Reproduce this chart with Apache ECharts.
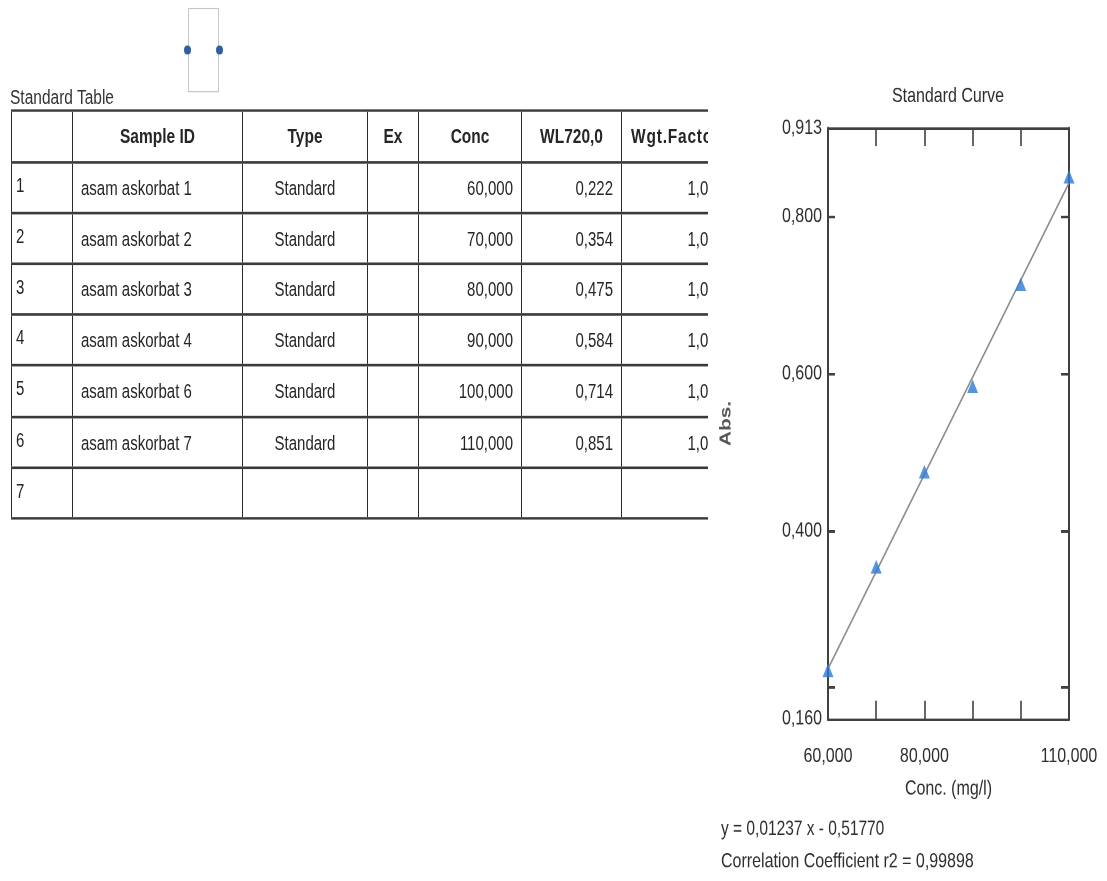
<!DOCTYPE html>
<html>
<head>
<meta charset="utf-8">
<script src="https://cdn.jsdelivr.net/npm/echarts@6/dist/echarts.min.js"></script>
<style>
  html, body { margin: 0; padding: 0; background: #fff; }
  body { width: 1107px; height: 881px; position: relative; overflow: hidden;
         font-family: 'Liberation Sans', Arial, sans-serif; color: #262626; }
  /* the reference screenshot is stretched vertically; draw at 678px and stretch to 881px */
  #page { position: absolute; left: 0; top: 0; width: 1107px; height: 678px;
          transform: scaleY(1.29941); transform-origin: 0 0; }
  #chart { position: absolute; left: 0; top: 0; width: 1107px; height: 678px; }
  #tableTitle { position: absolute; left: 10px; top: 66px; font-size: 15.5px; color: #333; }
  #tableWrap { position: absolute; left: 11px; top: 84px; width: 697px; overflow: hidden; }
  table { border-collapse: collapse; table-layout: fixed; width: 722px; font-size: 15px; }
  td, th { border-left: 1.5px solid #2a2a2a; border-right: 1.5px solid #2a2a2a;
           border-top: 2.4px solid #3a3a3a; border-bottom: 2.4px solid #3a3a3a;
           height: 37.2px; padding: 0 8px; white-space: nowrap; overflow: hidden; vertical-align: middle; }
  th { font-weight: bold; text-align: center; height: 37.6px; font-size: 15.5px; }
  td.idx { text-align: left; padding-left: 4px; }
  td.idx span { position: relative; top: -2px; }
  td.sid { text-align: left; }
  td.typ { text-align: center; }
  td.num { text-align: right; }
  th.last { text-align: left; padding-left: 9px; letter-spacing: 0.8px; }
  #icon { position: absolute; left: 188px; top: 6px; width: 29px; height: 63px; border: 1px solid #c8c8c8; }
  .dot { position: absolute; top: 28px; width: 7px; height: 7px; border-radius: 50%; background: #2f5f9e; }
</style>
</head>
<body>
<div id="page">
<div id="chart"></div>
<div id="icon"><div class="dot" style="left:-5px"></div><div class="dot" style="left:27px"></div></div>
<div id="tableTitle">Standard Table</div>
<div id="tableWrap"><table id="tbl">
  <colgroup>
    <col style="width:61px"><col style="width:170px"><col style="width:125px"><col style="width:51px">
    <col style="width:103px"><col style="width:100px"><col style="width:112px">
  </colgroup>
  <thead id="thead"></thead>
  <tbody id="tbody"></tbody>
</table></div>
</div>
<script>
// ---- data ----
const headers = ['', 'Sample ID', 'Type', 'Ex', 'Conc', 'WL720,0', 'Wgt.Factor'];
const rowNumbers = [1, 2, 3, 4, 5, 6, 7];
const sampleIds = ['asam askorbat 1', 'asam askorbat 2', 'asam askorbat 3', 'asam askorbat 4', 'asam askorbat 6', 'asam askorbat 7'];
const sampleTypes = ['Standard', 'Standard', 'Standard', 'Standard', 'Standard', 'Standard'];
const concValues = [60, 70, 80, 90, 100, 110];
const absValues = [0.222, 0.354, 0.475, 0.584, 0.714, 0.851];
const wgtFactors = [1, 1, 1, 1, 1, 1];
const fitLineX = [60, 110];
const fitLineY = [0.224, 0.843];
const yLabelValues = [0.160, 0.400, 0.600, 0.800, 0.913];
const yTickValues = [0.200, 0.400, 0.600, 0.800];
const xLabelValues = [60, 80, 110];
const equationText = 'y = 0,01237 x - 0,51770';
const correlationText = 'Correlation Coefficient r2 = 0,99898';

// ---- table ----
const fmt = (v, d) => v.toFixed(d).replace('.', ',');
document.getElementById('thead').innerHTML = '<tr>' + headers.map((h, i) =>
  '<th' + (i === headers.length - 1 ? ' class="last"' : '') + '>' + h + '</th>').join('') + '</tr>';
let html = '';
rowNumbers.forEach((n, i) => {
  const has = i < sampleIds.length;
  html += '<tr>' +
    '<td class="idx"><span>' + n + '</span></td>' +
    '<td class="sid">' + (has ? sampleIds[i] : '') + '</td>' +
    '<td class="typ">' + (has ? sampleTypes[i] : '') + '</td>' +
    '<td></td>' +
    '<td class="num">' + (has ? fmt(concValues[i], 3) : '') + '</td>' +
    '<td class="num">' + (has ? fmt(absValues[i], 3) : '') + '</td>' +
    '<td class="num">' + (has ? fmt(wgtFactors[i], 3) : '') + '</td>' +
    '</tr>';
});
document.getElementById('tbody').innerHTML = html;

// ---- chart ----
const FONT = "'Liberation Sans', Arial, sans-serif";
const AX = '#404040';
const TXT = '#2e2e2e';
const chart = echarts.init(document.getElementById('chart'), null, { renderer: 'canvas', devicePixelRatio: 2 });
chart.setOption({
  backgroundColor: 'transparent',
  animation: false,
  textStyle: { fontFamily: FONT },
  grid: { left: 828, top: 98.5, right: 38, bottom: 124.7, containLabel: false },
  graphic: [
    { type: 'text', x: 948, y: 66, style: { text: 'Standard Curve', font: '16px ' + FONT, fill: TXT, textAlign: 'center' } },
    { type: 'text', x: 721, y: 630, style: { text: equationText, font: '15.5px ' + FONT, fill: TXT } },
    { type: 'text', x: 721, y: 655, style: { text: correlationText, font: '16px ' + FONT, fill: TXT } }
  ],
  xAxis: [
    {
      type: 'value', min: 60, max: 110, interval: 10, position: 'bottom',
      axisLine: { show: true, lineStyle: { color: AX, width: 2 } },
      axisTick: { show: true, inside: true, length: 14, lineStyle: { color: AX, width: 1.6 } },
      axisLabel: {
        customValues: xLabelValues, margin: 21, fontSize: 16, color: TXT, fontFamily: FONT,
        formatter: v => fmt(v, 3)
      },
      splitLine: { show: false },
      name: 'Conc. (mg/l)', nameLocation: 'middle', nameGap: 46,
      nameTextStyle: { fontSize: 16, color: TXT, fontFamily: FONT }
    },
    {
      type: 'value', min: 60, max: 110, interval: 10, position: 'top',
      axisLine: { show: true, lineStyle: { color: AX, width: 2 } },
      axisTick: { show: true, inside: true, length: 14, lineStyle: { color: AX, width: 1.6 } },
      axisLabel: { show: false }, splitLine: { show: false }
    }
  ],
  yAxis: [
    {
      type: 'value', min: 0.160, max: 0.913, position: 'left',
      axisLine: { show: true, lineStyle: { color: AX, width: 2 } },
      axisTick: { show: true, inside: true, length: 7, customValues: yTickValues, lineStyle: { color: AX, width: 2 } },
      axisLabel: {
        customValues: yLabelValues, margin: 6, fontSize: 16, color: TXT, fontFamily: FONT,
        formatter: v => fmt(v, 3)
      },
      splitLine: { show: false },
      name: 'Abs.', nameLocation: 'middle', nameGap: 94, nameRotate: 90,
      nameTextStyle: { fontSize: 16, fontWeight: 'bold', color: '#555', fontFamily: FONT }
    },
    {
      type: 'value', min: 0.160, max: 0.913, position: 'right',
      axisLine: { show: true, lineStyle: { color: AX, width: 2 } },
      axisTick: { show: true, inside: true, length: 8, customValues: yTickValues, lineStyle: { color: AX, width: 2 } },
      axisLabel: { show: false }, splitLine: { show: false }
    }
  ],
  series: [
    {
      type: 'line', xAxisIndex: 0, yAxisIndex: 0, showSymbol: false, silent: true,
      data: fitLineX.map((x, i) => [x, fitLineY[i]]),
      lineStyle: { color: '#8a8a8a', width: 1.5 }, z: 2
    },
    {
      type: 'scatter', xAxisIndex: 0, yAxisIndex: 0, symbol: 'triangle', symbolSize: [11, 10.5],
      data: concValues.map((x, i) => [x, absValues[i]]),
      itemStyle: { color: '#2c7ad6' }, z: 3
    }
  ]
});
</script>
</body>
</html>
